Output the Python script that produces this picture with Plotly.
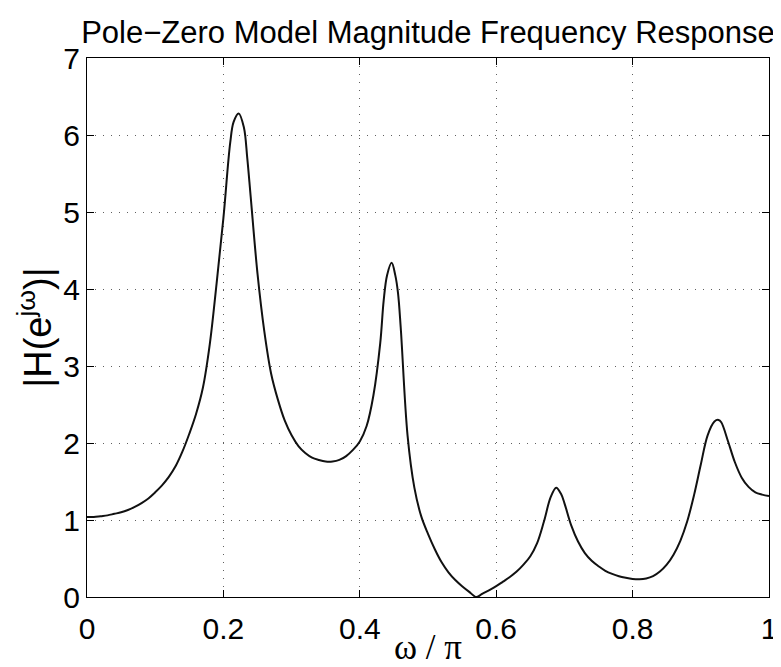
import plotly.graph_objects as go

# ---- data ----
omega_over_pi = [
    0.00, 0.01, 0.02, 0.03, 0.04, 0.05, 0.06, 0.07, 0.08, 0.09,
    0.10, 0.11, 0.12, 0.13, 0.14, 0.15, 0.16, 0.17, 0.18, 0.19,
    0.20, 0.21, 0.215, 0.2224, 0.23, 0.235, 0.24, 0.25, 0.26, 0.27,
    0.28, 0.29, 0.30, 0.31, 0.32, 0.33, 0.34, 0.35, 0.36, 0.37,
    0.38, 0.39, 0.40, 0.41, 0.42, 0.43, 0.435, 0.44, 0.4467, 0.452,
    0.456, 0.46, 0.47, 0.48, 0.49, 0.50, 0.51, 0.52, 0.53, 0.54,
    0.55, 0.56, 0.571, 0.58, 0.59, 0.60, 0.61, 0.62, 0.63, 0.64,
    0.65, 0.66, 0.67, 0.68, 0.688, 0.695, 0.70, 0.71, 0.72, 0.73,
    0.74, 0.75, 0.76, 0.77, 0.78, 0.79, 0.80, 0.81, 0.82, 0.83,
    0.84, 0.85, 0.86, 0.87, 0.88, 0.89, 0.90, 0.91, 0.92, 0.926,
    0.93, 0.94, 0.95, 0.96, 0.97, 0.98, 0.99, 1.00,
]
magnitude = [
    1.04, 1.04, 1.05, 1.06, 1.08, 1.10, 1.13, 1.17, 1.22, 1.28,
    1.36, 1.45, 1.56, 1.70, 1.89, 2.12, 2.38, 2.72, 3.28, 4.07,
    4.92, 5.90, 6.17, 6.28, 6.10, 5.70, 5.20, 4.20, 3.45, 2.90,
    2.56, 2.29, 2.10, 1.96, 1.87, 1.81, 1.78, 1.76, 1.76, 1.78,
    1.83, 1.91, 2.02, 2.22, 2.62, 3.30, 3.85, 4.18, 4.34, 4.18,
    3.95, 3.50, 2.10, 1.42, 1.05, 0.82, 0.62, 0.45, 0.32, 0.22,
    0.14, 0.07, 0.00, 0.045, 0.09, 0.14, 0.20, 0.26, 0.33, 0.42,
    0.53, 0.70, 0.98, 1.30, 1.42, 1.34, 1.22, 0.93, 0.72, 0.57,
    0.47, 0.40, 0.34, 0.30, 0.27, 0.25, 0.235, 0.23, 0.24, 0.27,
    0.33, 0.42, 0.55, 0.73, 0.98, 1.32, 1.72, 2.10, 2.28, 2.30,
    2.27, 2.02, 1.75, 1.55, 1.43, 1.36, 1.33, 1.31,
]
x_ticks = [0, 0.2, 0.4, 0.6, 0.8, 1]
x_tick_labels = ["0", "0.2", "0.4", "0.6", "0.8", "1"]
y_ticks = [0, 1, 2, 3, 4, 5, 6, 7]
y_tick_labels = ["0", "1", "2", "3", "4", "5", "6", "7"]

title_text = "Pole\u2212Zero Model Magnitude Frequency Response"
x_label = "\u03c9 / \u03c0"
y_label = "|H(e<sup>j\u03c9</sup>)|"

# page body has an 8px margin, so the figure is 8px smaller than the window
W, H = 773, 659
ML, MR, MT, MB = 79, 12, 50, 70

fig = go.Figure()
fig.add_trace(go.Scatter(
    x=omega_over_pi, y=magnitude, mode="lines",
    line=dict(color="#111111", width=2, shape="spline", smoothing=1.0),
    hoverinfo="skip", showlegend=False,
))

axis_common = dict(
    showline=True, linecolor="black", linewidth=1, mirror="ticks",
    ticks="inside", ticklen=7, tickcolor="black", tickwidth=1,
    showgrid=True, gridcolor="#606060", gridwidth=1, griddash="1px,7px",
    zeroline=False, automargin=False,
    tickfont=dict(family="Liberation Sans, Arial, sans-serif", size=30, color="black"),
)

fig.update_xaxes(
    range=[0, 1], tickvals=x_ticks, ticktext=x_tick_labels, ticklabelstandoff=5,
    title=dict(text=x_label, font=dict(family="Liberation Serif, Times New Roman, serif",
                                       size=35, color="black"), standoff=0),
    **axis_common,
)
fig.update_yaxes(
    range=[0, 7], tickvals=y_ticks, ticktext=y_tick_labels,
    title=dict(text=y_label, font=dict(family="Liberation Sans, Arial, sans-serif",
                                       size=38, color="black"), standoff=0),
    **axis_common,
)

fig.update_layout(
    width=W, height=H,
    margin=dict(l=ML, r=MR, t=MT, b=MB, autoexpand=False),
    paper_bgcolor="white", plot_bgcolor="white",
    title=dict(text=title_text, x=0.5, xref="paper", xanchor="center",
               y=1 - 24 / H, yref="container", yanchor="middle",
               font=dict(family="Liberation Sans, Arial, sans-serif", size=31, color="black")),
)

fig.write_html("out.html")
